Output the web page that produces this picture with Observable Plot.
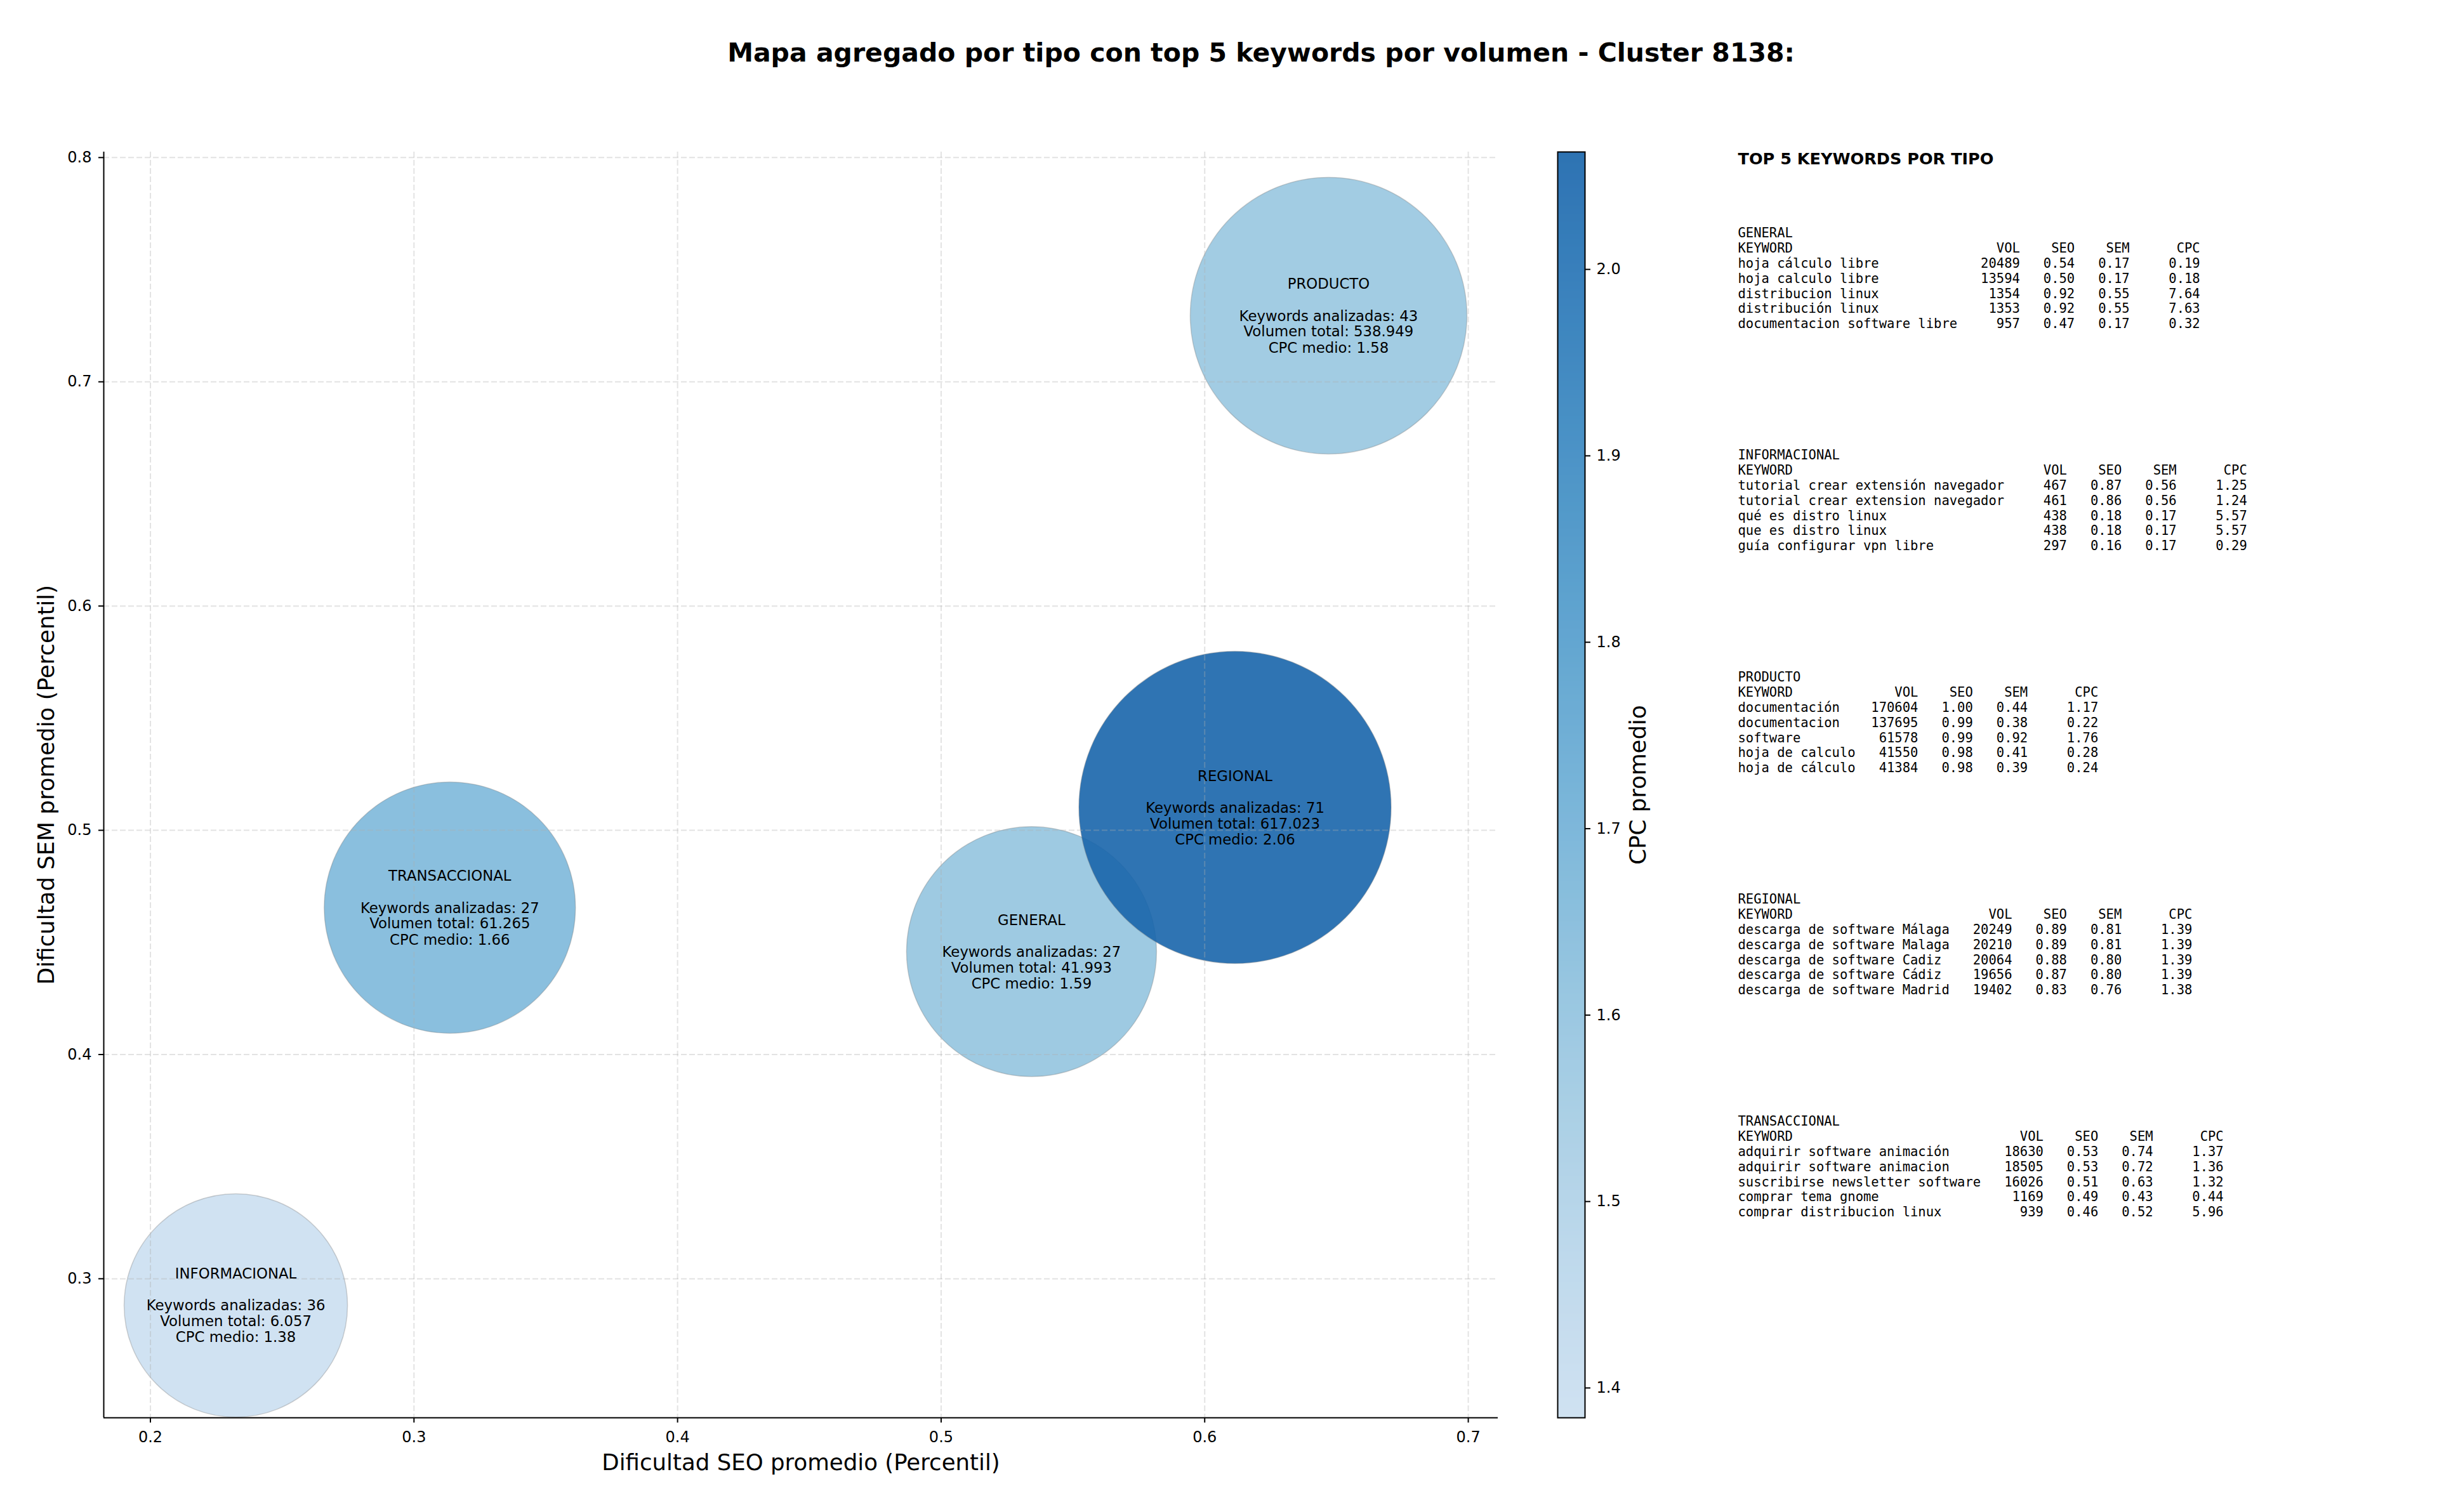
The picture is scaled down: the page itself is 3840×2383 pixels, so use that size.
<!DOCTYPE html>
<html><head><meta charset="utf-8">
<script src="https://cdn.jsdelivr.net/npm/d3@7"></script>
<script src="https://cdn.jsdelivr.net/npm/@observablehq/plot@0.6"></script>
<style>
html,body{margin:0;padding:0;background:#fff;}
#fig{position:relative;width:3840px;height:2383px;background:#fff;overflow:hidden;}
#fig svg{position:absolute;top:0;}
#fig svg text{white-space:pre;}
#title{position:absolute;left:1987px;top:63px;transform:translateX(-50%);font-family:"DejaVu Sans";font-weight:bold;font-size:41px;line-height:41px;white-space:nowrap;z-index:10;color:#000;}
</style></head><body>
<div id="fig"><div id="title">Mapa agregado por tipo con top 5 keywords por volumen - Cluster 8138:</div></div>
<script>
// ---- aggregated data per type ----
const types    = ["GENERAL", "INFORMACIONAL", "PRODUCTO", "REGIONAL", "TRANSACCIONAL"];
const seoAvg   = [0.5343, 0.2324, 0.6470, 0.6115, 0.3136];
const semAvg   = [0.4459, 0.2881, 0.7295, 0.5102, 0.4655];
const kwCount  = [27, 36, 43, 71, 27];
const volTotal = [41993, 6057, 538949, 617023, 61265];
const cpcAvg   = [1.59, 1.38, 1.58, 2.06, 1.66];

// ---- axis ticks ----
const xTicks  = [0.2, 0.3, 0.4, 0.5, 0.6, 0.7];
const yTicks  = [0.3, 0.4, 0.5, 0.6, 0.7, 0.8];
const cbTicks = [1.4, 1.5, 1.6, 1.7, 1.8, 1.9, 2.0];
const xDomain = [0.1823, 0.7113];
const yDomain = [0.238, 0.8025];
const cpcDomain = [1.384, 2.063];

// ---- top 5 keywords per type: [keyword, vol, seo, sem, cpc] ----
const topGeneral = [
  ["hoja cálculo libre", 20489, 0.54, 0.17, 0.19],
  ["hoja calculo libre", 13594, 0.50, 0.17, 0.18],
  ["distribucion linux", 1354, 0.92, 0.55, 7.64],
  ["distribución linux", 1353, 0.92, 0.55, 7.63],
  ["documentacion software libre", 957, 0.47, 0.17, 0.32]
];
const topInformacional = [
  ["tutorial crear extensión navegador", 467, 0.87, 0.56, 1.25],
  ["tutorial crear extension navegador", 461, 0.86, 0.56, 1.24],
  ["qué es distro linux", 438, 0.18, 0.17, 5.57],
  ["que es distro linux", 438, 0.18, 0.17, 5.57],
  ["guía configurar vpn libre", 297, 0.16, 0.17, 0.29]
];
const topProducto = [
  ["documentación", 170604, 1.00, 0.44, 1.17],
  ["documentacion", 137695, 0.99, 0.38, 0.22],
  ["software", 61578, 0.99, 0.92, 1.76],
  ["hoja de calculo", 41550, 0.98, 0.41, 0.28],
  ["hoja de cálculo", 41384, 0.98, 0.39, 0.24]
];
const topRegional = [
  ["descarga de software Málaga", 20249, 0.89, 0.81, 1.39],
  ["descarga de software Malaga", 20210, 0.89, 0.81, 1.39],
  ["descarga de software Cadiz", 20064, 0.88, 0.80, 1.39],
  ["descarga de software Cádiz", 19656, 0.87, 0.80, 1.39],
  ["descarga de software Madrid", 19402, 0.83, 0.76, 1.38]
];
const topTransaccional = [
  ["adquirir software animación", 18630, 0.53, 0.74, 1.37],
  ["adquirir software animacion", 18505, 0.53, 0.72, 1.36],
  ["suscribirse newsletter software", 16026, 0.51, 0.63, 1.32],
  ["comprar tema gnome", 1169, 0.49, 0.43, 0.44],
  ["comprar distribucion linux", 939, 0.46, 0.52, 5.96]
];
const topByType = [topGeneral, topInformacional, topProducto, topRegional, topTransaccional];

// ---- derived tables ----
const esLocale = d3.formatLocale({decimal: ",", thousands: ".", grouping: [3], currency: ["", "€"]});
const fmtVol = esLocale.format(",d");
const bubbles = types.map((t, i) => ({
  type: t, seo: seoAvg[i], sem: semAvg[i], n: kwCount[i], vol: volTotal[i], cpc: cpcAvg[i],
  label: `${t}\n\nKeywords analizadas: ${kwCount[i]}\nVolumen total: ${fmtVol(volTotal[i])}\nCPC medio: ${cpcAvg[i].toFixed(2)}`
}));

const blocks = types.map((t, i) => {
  const rows = topByType[i];
  const L = d3.max(rows, r => r[0].length);
  const head = "KEYWORD".padEnd(L) + "VOL".padStart(8) + "SEO".padStart(7) + "SEM".padStart(7) + "CPC".padStart(9);
  const lines = rows.map(r => r[0].padEnd(L) + String(r[1]).padStart(8) + r[2].toFixed(2).padStart(7) + r[3].toFixed(2).padStart(7) + r[4].toFixed(2).padStart(9));
  return {type: t, text: [t, head, ...lines].join("\n")};
});

const colorOpts = {type: "linear", domain: cpcDomain, interpolate: t => d3.interpolateBlues(0.22 + 0.58 * t)};
const volSorted = [...volTotal].sort((a, b) => a - b);
const f1 = d3.format(".1f");

// ---- main bubble chart ----
const main = Plot.plot({
  width: 2400, height: 2383,
  marginLeft: 163, marginRight: 40, marginTop: 239, marginBottom: 149,
  style: {fontFamily: "DejaVu Sans", background: "transparent", color: "#000"},
  x: {domain: xDomain},
  y: {domain: yDomain},
  r: {type: "linear", domain: volSorted, range: [176, 197, 198, 218, 246]},
  color: colorOpts,
  marks: [
    Plot.dot(bubbles, {x: "seo", y: "sem", r: "vol", fill: "cpc", fillOpacity: 0.9, stroke: "#7f7f7f", strokeOpacity: 0.35, strokeWidth: 1.5, sort: null}),
    Plot.gridX({ticks: xTicks, stroke: "#b0b0b0", strokeOpacity: 0.35, strokeWidth: 2, strokeDasharray: "9,4"}),
    Plot.gridY({ticks: yTicks, stroke: "#b0b0b0", strokeOpacity: 0.35, strokeWidth: 2, strokeDasharray: "9,4"}),
    Plot.text(bubbles, {x: "seo", y: "sem", text: "label", fontSize: 22.8, lineHeight: 1.097, fill: "#000"}),
    Plot.axisX({ticks: xTicks, tickFormat: f1, tickSize: 8, tickPadding: 13, fontSize: 24, strokeWidth: 2, label: null}),
    Plot.axisY({ticks: yTicks, tickFormat: f1, tickSize: 8, tickPadding: 11, fontSize: 24, strokeWidth: 2, label: null}),
    Plot.ruleX([xDomain[0]], {stroke: "#000", strokeWidth: 2}),
    Plot.ruleY([yDomain[0]], {stroke: "#000", strokeWidth: 2}),
    Plot.text(["Dificultad SEO promedio (Percentil)"], {frameAnchor: "bottom", textAnchor: "middle", lineAnchor: "top", dy: 57.4, fontSize: 35.6, fill: "#000"}),
    Plot.text(["Dificultad SEM promedio (Percentil)"], {frameAnchor: "left", textAnchor: "middle", lineAnchor: "middle", rotate: -90, dx: -89.5, fontSize: 35.6, fill: "#000"})
  ]
});
main.style.left = "0px";

// ---- colorbar ----
const cbar = Plot.plot({
  width: 300, height: 2383,
  marginLeft: 54, marginRight: 203, marginTop: 239, marginBottom: 149,
  style: {fontFamily: "DejaVu Sans", background: "transparent", color: "#000"},
  x: {domain: [0, 1], axis: null},
  y: {domain: cpcDomain},
  color: colorOpts,
  marks: [
    Plot.raster({x1: 0, x2: 1, y1: cpcDomain[0], y2: cpcDomain[1], fill: (x, y) => y, opacity: 0.9, pixelSize: 1}),
    Plot.frame({stroke: "#000", strokeWidth: 2}),
    Plot.axisY({anchor: "right", ticks: cbTicks, tickFormat: f1, tickSize: 8, tickPadding: 10, fontSize: 24, strokeWidth: 2, label: null}),
    Plot.text(["CPC promedio"], {frameAnchor: "right", textAnchor: "middle", lineAnchor: "middle", rotate: -90, dx: 84, fontSize: 35.6, fill: "#000"})
  ]
});
cbar.style.left = "2400px";

// ---- top keywords panel ----
const panel = Plot.plot({
  width: 1140, height: 2383,
  marginLeft: 38, marginRight: 0, marginTop: 0, marginBottom: 0,
  style: {fontFamily: "DejaVu Sans Mono", background: "transparent", color: "#000"},
  y: {type: "point", domain: types, range: [355, 1758], padding: 0, axis: null},
  marks: [
    Plot.text(["TOP 5 KEYWORDS POR TIPO"], {frameAnchor: "top-left", textAnchor: "start", lineAnchor: "top", dy: 240, fontFamily: "DejaVu Sans", fontWeight: "bold", fontSize: 25.5, fill: "#000"}),
    Plot.text(blocks, {y: "type", text: "text", frameAnchor: "left", textAnchor: "start", lineAnchor: "top", fontSize: 20.5, lineHeight: 1.16, fill: "#000"})
  ]
});
panel.style.left = "2700px";

const fig = document.getElementById("fig");
fig.appendChild(main);
fig.appendChild(cbar);
fig.appendChild(panel);
</script>
</body></html>
